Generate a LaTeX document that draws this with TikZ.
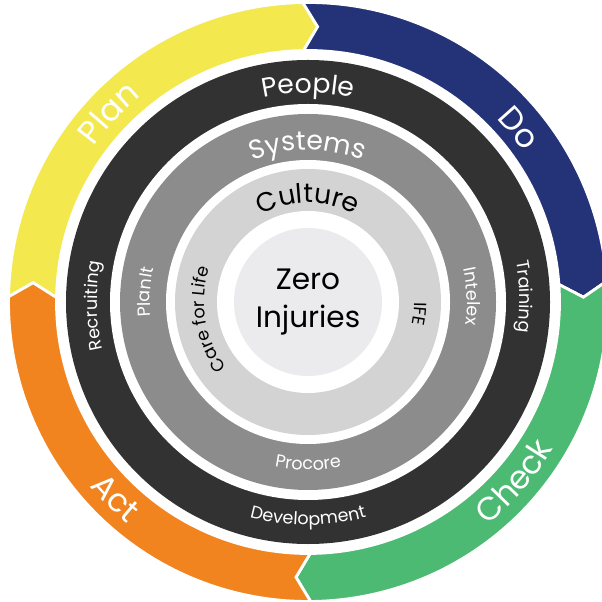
\documentclass[tikz,border=0pt]{standalone}
\usepackage{fontspec}
\setmainfont{Poppins}
\usepackage{tikz}
\usetikzlibrary{decorations.text}

\definecolor{planyellow}{RGB}{243,233,78}
\definecolor{donavy}{RGB}{36,50,120}
\definecolor{checkgreen}{RGB}{76,186,115}
\definecolor{actorange}{RGB}{242,132,32}
\definecolor{ringdark}{RGB}{50,50,50}
\definecolor{ringgray}{RGB}{140,140,140}
\definecolor{ringlight}{RGB}{211,211,211}
\definecolor{corelight}{RGB}{235,235,237}

\newcommand\cyclefont{\fontsize{23}{27}\selectfont}
\newcommand\ringfont{\fontsize{19}{23}\selectfont}
\newcommand\itemfont{\fontsize{12.5}{15}\selectfont}
\newcommand\corefont{\fontsize{21}{27}\selectfont}

\tikzset{
  arclabel/.style 2 args={decorate, decoration={text along path, text align=center, text color=#1, text={#2}}},
  cyclepart/.style={fill=#1, draw=white, line width=2pt, line join=miter},
}

\begin{document}
\begin{tikzpicture}[x=0.025cm, y=0.025cm]
    \useasboundingbox (-308,-300) rectangle (294,302);
    \fill[white] (-308,-300) rectangle (294,302);

    % PDCA cycle
    \foreach \a/\b/\c in {179/91/planyellow, 91/4/donavy, 4/-89.5/checkgreen, 270.5/179/actorange} {
        \fill[cyclepart=\c] (\a:299.5) arc[start angle=\a, end angle=\b, radius=299.5]
            -- ({\b-3}:275.5) -- (\b:251.5) arc[start angle=\b, end angle=\a, radius=251.5]
            -- ({\a-3}:275.5) -- cycle;
    }

    % Rings
    \foreach \r/\c in {242/ringdark, 198/white, 188/ringgray, 142/white, 133/ringlight, 91/white, 74/corelight} {
        \fill[\c] (0,0) circle[radius=\r];
    }

    % Cycle labels
    \path[arclabel={white}{|\cyclefont|Plan}] (176.5:265) arc[start angle=176.5, end angle=96.5, radius=265];
    \path[arclabel={white}{|\cyclefont|Do}] (79.5:263) arc[start angle=79.5, end angle=-0.5, radius=263];
    \path[arclabel={white}{|\cyclefont|Check}] (-81:286) arc[start angle=-81, end angle=-1, radius=286];
    \path[arclabel={white}{|\cyclefont|Act}] (185.5:286) arc[start angle=185.5, end angle=265.5, radius=286];

    % Ring titles
    \path[arclabel={white}{|\ringfont|People}] (135:209) arc[start angle=135, end angle=45, radius=209];
    \path[arclabel={white}{|\ringfont|Systems}] (140:152) arc[start angle=140, end angle=40, radius=152];
    \path[arclabel={black}{|\ringfont|Culture}] (150:99) arc[start angle=150, end angle=30, radius=99];

    % Left side
    \path[arclabel={white}{|\itemfont|Recruiting}] (221:211) arc[start angle=221, end angle=141, radius=211];
    \path[arclabel={white}{|\itemfont|PlanIt}] (216.5:158) arc[start angle=216.5, end angle=136.5, radius=158];
    \path[arclabel={black}{|\itemfont|Care for Life}] (240:104) arc[start angle=240, end angle=140, radius=104];

    % Right side
    \path[arclabel={white}{|\itemfont|Training}] (41.5:212) arc[start angle=41.5, end angle=-38.5, radius=212];
    \path[arclabel={white}{|\itemfont|Intelex}] (42:159) arc[start angle=42, end angle=-38, radius=159];
    \path[arclabel={black}{|\itemfont|IFE}] (44:106) arc[start angle=44, end angle=-56, radius=106];

    % Bottom
    \path[arclabel={white}{|\itemfont|Procore}] (230:168) arc[start angle=230, end angle=310, radius=168];
    \path[arclabel={white}{|\itemfont|Development}] (230:223) arc[start angle=230, end angle=310, radius=223];

    % Core
    \node[align=center, font=\corefont] (core) at (0,0) {Zero\\Injuries};
\end{tikzpicture}
\end{document}
